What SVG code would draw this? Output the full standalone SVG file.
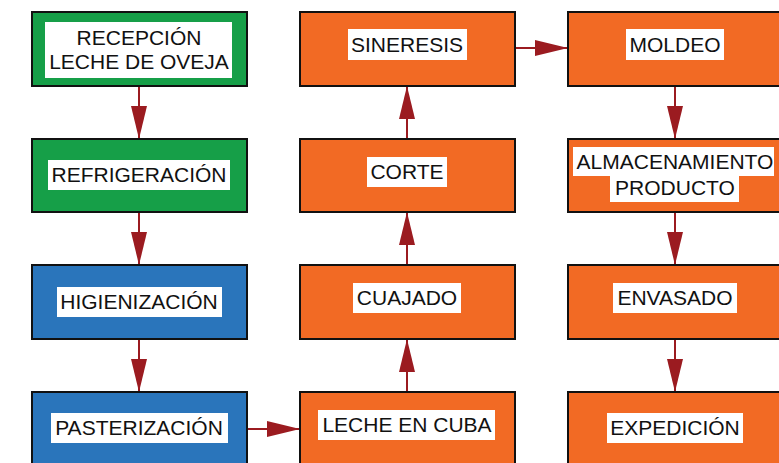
<svg xmlns="http://www.w3.org/2000/svg" width="779" height="463" viewBox="0 0 779 463">
<defs>
<style>
.box{stroke:#111;stroke-width:2}
.g{fill:#169f48}
.b{fill:#2a75bb}
.o{fill:#f26a24}
.lbl{fill:#fff}
.t{font-family:"Liberation Sans",Arial,sans-serif;font-size:21px;fill:#111;text-anchor:middle}
.c{stroke:#9b1b20;stroke-width:2;fill:none;marker-end:url(#ah)}
</style>
<marker id="ah" markerUnits="userSpaceOnUse" markerWidth="34" markerHeight="18" refX="33" refY="8" orient="auto" viewBox="0 0 34 17">
<path d="M0,0 L33,8 L0,16 Z" fill="#9b1b20"/>
</marker>
</defs>
<g id="connectors">
<line class="c" x1="139" y1="86" x2="139" y2="139"/>
<line class="c" x1="139" y1="212" x2="139" y2="265"/>
<line class="c" x1="139" y1="339" x2="139" y2="392"/>
<line class="c" x1="247" y1="429" x2="300" y2="429"/>
<line class="c" x1="407" y1="392" x2="407" y2="339"/>
<line class="c" x1="407" y1="265" x2="407" y2="212"/>
<line class="c" x1="407" y1="139" x2="407" y2="86"/>
<line class="c" x1="515" y1="48" x2="568" y2="48"/>
<line class="c" x1="675" y1="86" x2="675" y2="139"/>
<line class="c" x1="675" y1="212" x2="675" y2="265"/>
<line class="c" x1="675" y1="339" x2="675" y2="392"/>
</g>
<g id="recepcion">
<rect class="box g" x="32" y="12" width="215" height="74"/>
<rect class="lbl" x="45" y="22" width="187" height="56"/>
<text class="t" x="139" y="45">RECEPCIÓN</text>
<text class="t" x="139" y="69">LECHE DE OVEJA</text>
</g>
<g id="refrigeracion">
<rect class="box g" x="32" y="139" width="215" height="73"/>
<rect class="lbl" x="48" y="160" width="182" height="30"/>
<text class="t" x="139" y="182">REFRIGERACIÓN</text>
</g>
<g id="higienizacion">
<rect class="box b" x="32" y="265" width="215" height="74"/>
<rect class="lbl" x="57" y="287" width="165" height="30"/>
<text class="t" x="139" y="309">HIGIENIZACIÓN</text>
</g>
<g id="pasterizacion">
<rect class="box b" x="32" y="392" width="215" height="74"/>
<rect class="lbl" x="51" y="413" width="177" height="30"/>
<text class="t" x="139" y="435">PASTERIZACIÓN</text>
</g>
<g id="leche-cuba">
<rect class="box o" x="300" y="392" width="215" height="74"/>
<rect class="lbl" x="318" y="410" width="177" height="30"/>
<text class="t" x="407" y="432">LECHE EN CUBA</text>
</g>
<g id="cuajado">
<rect class="box o" x="300" y="265" width="215" height="74"/>
<rect class="lbl" x="353" y="283" width="108" height="30"/>
<text class="t" x="407" y="305">CUAJADO</text>
</g>
<g id="corte">
<rect class="box o" x="300" y="139" width="215" height="73"/>
<rect class="lbl" x="367" y="157" width="80" height="30"/>
<text class="t" x="407" y="179">CORTE</text>
</g>
<g id="sineresis">
<rect class="box o" x="300" y="12" width="215" height="74"/>
<rect class="lbl" x="348" y="29" width="119" height="31"/>
<text class="t" x="407" y="52">SINERESIS</text>
</g>
<g id="moldeo">
<rect class="box o" x="568" y="12" width="216" height="74"/>
<rect class="lbl" x="626" y="29" width="98" height="31"/>
<text class="t" x="675" y="52">MOLDEO</text>
</g>
<g id="almacenamiento">
<rect class="box o" x="568" y="139" width="216" height="73"/>
<rect class="lbl" x="573" y="147" width="201" height="29"/>
<rect class="lbl" x="610" y="175" width="129" height="27"/>
<text class="t" x="675" y="169">ALMACENAMIENTO</text>
<text class="t" x="675" y="195">PRODUCTO</text>
</g>
<g id="envasado">
<rect class="box o" x="568" y="265" width="216" height="74"/>
<rect class="lbl" x="613" y="283" width="124" height="30"/>
<text class="t" x="675" y="305">ENVASADO</text>
</g>
<g id="expedicion">
<rect class="box o" x="568" y="392" width="216" height="74"/>
<rect class="lbl" x="607" y="413" width="136" height="30"/>
<text class="t" x="675" y="435">EXPEDICIÓN</text>
</g>
</svg>
